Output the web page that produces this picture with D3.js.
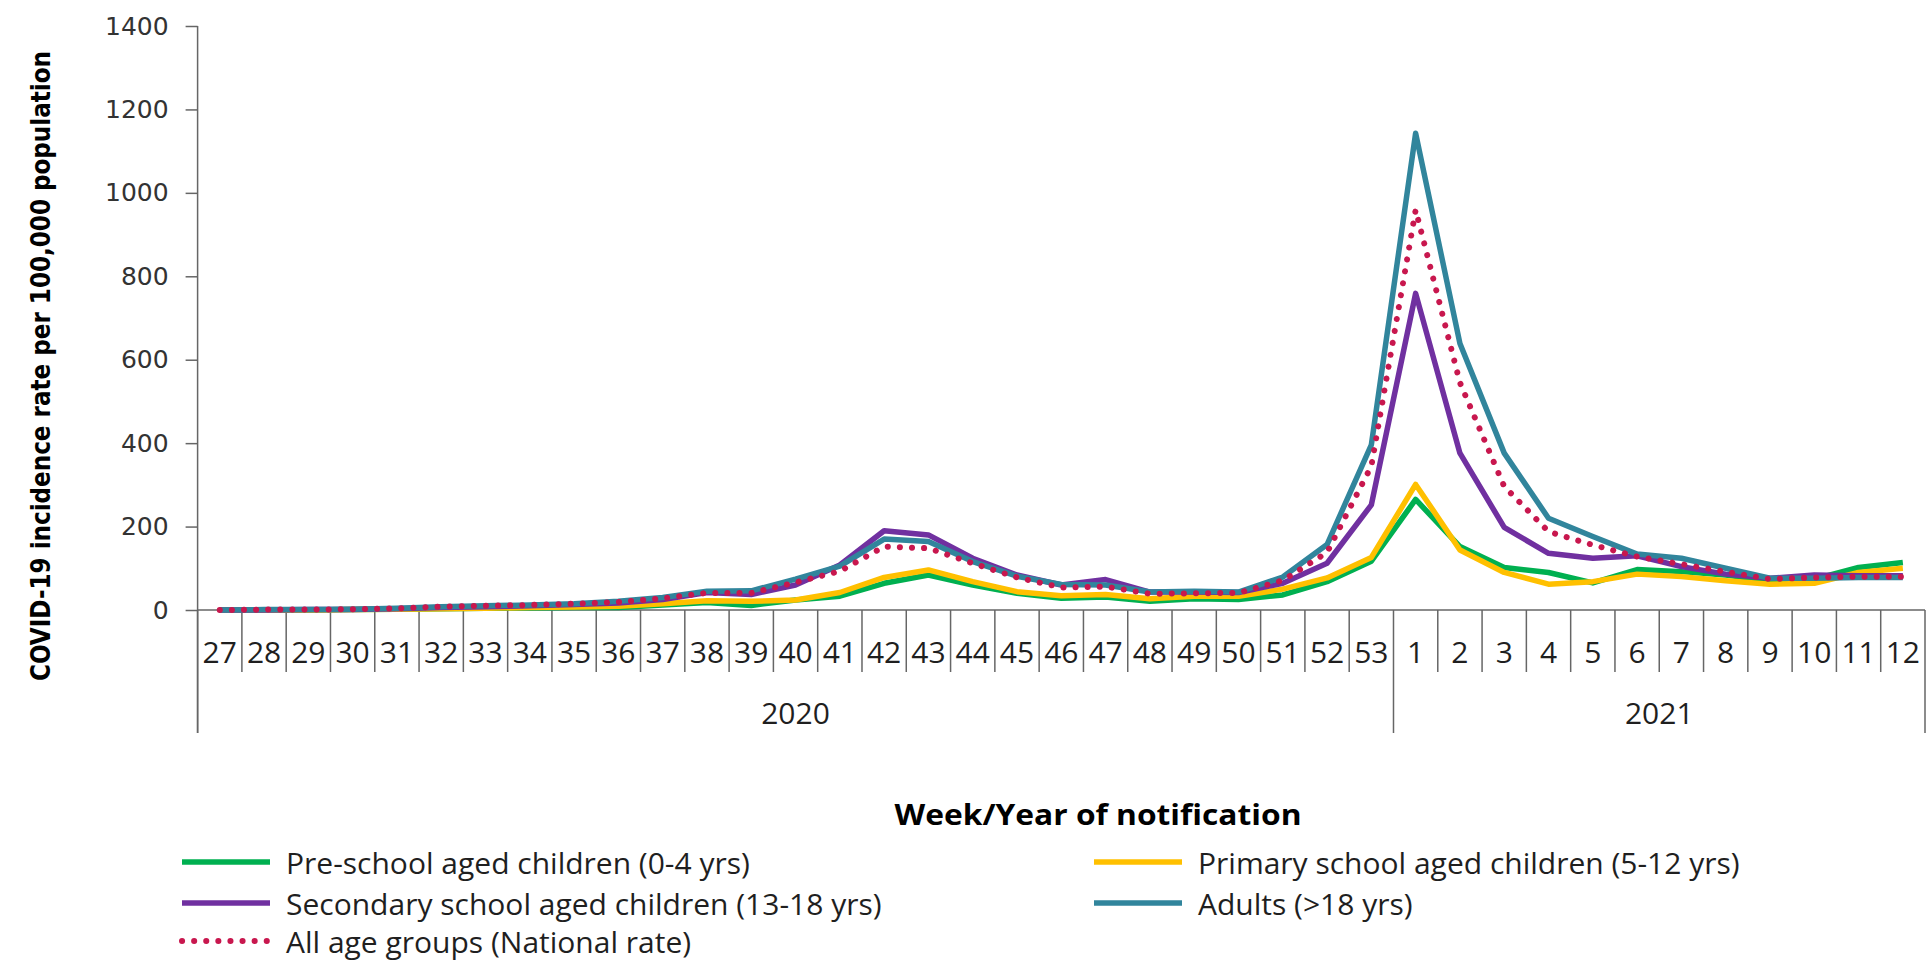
<!DOCTYPE html>
<html>
<head>
<meta charset="utf-8">
<script src="https://cdn.jsdelivr.net/npm/d3@7"></script>
<style>
  html, body { margin: 0; padding: 0; background: #ffffff; }
  svg { display: block; }
</style>
</head>
<body>
<svg id="chart" width="1931" height="960"></svg>
<script>
// ---------------- DATA ----------------
const weeks = ["27","28","29","30","31","32","33","34","35","36","37","38","39","40","41","42","43","44","45","46","47","48","49","50","51","52","53",
               "1","2","3","4","5","6","7","8","9","10","11","12"];
const yearLabels = ["2020", "2021"];
const yearWeekCounts = [27, 12];
const yTicks = [0, 200, 400, 600, 800, 1000, 1200, 1400];

const preSchool = [0,0,0,1,2,3,4,5,6,6,12,18,11,24,33,64,84,60,40,28,31,21,27,25,36,68,117,
                   265,152,102,90,65,97,92,84,70,74,102,114];
const primary   = [0,0,0,1,2,3,4,6,7,9,15,22,21,24,42,78,96,68,44,34,37,27,33,33,50,77,126,
                   301,144,90,62,68,86,80,70,62,64,90,100];
const secondary = [0,0,1,1,3,6,8,10,13,17,25,42,37,60,108,190,180,124,84,60,73,43,43,42,64,112,252,
                   759,376,198,136,124,130,104,86,76,84,82,82];
const adults    = [0,1,1,2,4,8,10,12,15,21,30,45,46,74,105,170,164,116,81,61,60,43,45,43,79,157,396,
                   1143,639,376,220,176,134,124,100,76,76,78,78];
const allAges   = [0,1,1,2,4,8,10,12,15,19,28,41,41,66,93,152,148,112,78,54,56,39,40,41,71,138,345,
                   959,545,296,188,156,128,110,92,74,78,80,80];

const seriesNames = [
  "Pre-school aged children (0-4 yrs)",
  "Primary school aged children (5-12 yrs)",
  "Secondary school aged children (13-18 yrs)",
  "Adults (>18 yrs)",
  "All age groups (National rate)"
];
const seriesValues = [preSchool, primary, secondary, adults, allAges];
const seriesColors = ["#00b050", "#ffc000", "#7030a0", "#31859c", "#c8174e"];
const seriesDotted = [false, false, false, false, true];

const yTitle = "COVID-19 incidence rate per 100,000 population";
const xTitle = "Week/Year of notification";

// ---------------- LAYOUT ----------------
const svg = d3.select("#chart");
const plotLeft = 197.6, plotRight = 1925, plotTop = 26, plotBottom = 610;
const weekTickLen = 62, yearTickBottom = 733;
const axisColor = "#666666";
const textColor = "#1f1f1f";

const x = d3.scaleBand().domain(weeks).range([plotLeft, plotRight]).paddingInner(0).paddingOuter(0);
const y = d3.scaleLinear().domain([0, 1400]).range([plotBottom, plotTop]);

// Y axis
const yAxis = d3.axisLeft(y).tickValues(yTicks).tickFormat(d3.format("d"))
  .tickSize(12).tickSizeOuter(0).tickPadding(17);
const gy = svg.append("g").attr("transform", `translate(${plotLeft},0)`).call(yAxis);
gy.select(".domain").remove();
gy.selectAll(".tick line").attr("stroke", axisColor).attr("stroke-width", 1.5);
gy.selectAll(".tick text")
  .attr("font-family", "DejaVu Sans")
  .attr("font-size", 25)
  .attr("fill", "#333333");

// y axis line extended down as the left border of the multi-level category axis
svg.append("line")
  .attr("x1", plotLeft).attr("x2", plotLeft)
  .attr("y1", y(1400)).attr("y2", yearTickBottom)
  .attr("stroke", axisColor).attr("stroke-width", 1.5);

// X axis baseline
svg.append("line")
  .attr("x1", plotLeft).attr("x2", plotRight)
  .attr("y1", y(0)).attr("y2", y(0))
  .attr("stroke", axisColor).attr("stroke-width", 1.5);

// Week separators (between categories)
const boundaries = weeks.map(w => x(w)).concat([x(weeks[weeks.length - 1]) + x.bandwidth()]);
const yearBoundaryIdx = [0];
yearWeekCounts.reduce((acc, c) => { yearBoundaryIdx.push(acc + c); return acc + c; }, 0);

svg.append("g").selectAll("line")
  .data(boundaries.map((b, i) => ({ b, i })))
  .join("line")
  .attr("x1", d => d.b).attr("x2", d => d.b)
  .attr("y1", y(0))
  .attr("y2", d => yearBoundaryIdx.includes(d.i) ? yearTickBottom : y(0) + weekTickLen)
  .attr("stroke", axisColor).attr("stroke-width", 1.5);

// Week labels
svg.append("g").selectAll("text")
  .data(weeks)
  .join("text")
  .attr("x", d => x(d) + x.bandwidth() / 2)
  .attr("y", y(0) + 41)
  .attr("text-anchor", "middle")
  .attr("dominant-baseline", "central")
  .attr("font-family", "Open Sans")
  .attr("font-size", 30)
  .attr("fill", textColor)
  .text(d => d);

// Year labels
svg.append("g").selectAll("text")
  .data(yearLabels.map((lab, i) => ({ lab, i })))
  .join("text")
  .attr("x", d => (boundaries[yearBoundaryIdx[d.i]] + boundaries[yearBoundaryIdx[d.i + 1]]) / 2)
  .attr("y", 712)
  .attr("text-anchor", "middle")
  .attr("dominant-baseline", "central")
  .attr("font-family", "Open Sans")
  .attr("font-size", 30)
  .attr("fill", textColor)
  .text(d => d.lab);

// X title
svg.append("text")
  .attr("x", 1098)
  .attr("y", 814)
  .attr("text-anchor", "middle")
  .attr("dominant-baseline", "central")
  .attr("font-family", "Open Sans")
  .attr("font-weight", "bold")
  .attr("font-size", 28)
  .attr("fill", "#000")
  .attr("textLength", 407)
  .attr("lengthAdjust", "spacingAndGlyphs")
  .text(xTitle);

// Y title
svg.append("text")
  .attr("transform", "translate(40,366) rotate(-90)")
  .attr("text-anchor", "middle")
  .attr("dominant-baseline", "central")
  .attr("font-family", "DejaVu Sans Condensed, Liberation Sans, sans-serif")
  .attr("font-weight", "bold")
  .attr("font-size", 27)
  .attr("fill", "#000")
  .attr("textLength", 630)
  .attr("lengthAdjust", "spacingAndGlyphs")
  .text(yTitle);

// Lines
const line = d3.line()
  .x((d, i) => x(weeks[i]) + x.bandwidth() / 2)
  .y(d => y(d));

seriesValues.forEach((vals, k) => {
  const p = svg.append("path")
    .datum(vals)
    .attr("fill", "none")
    .attr("stroke", seriesColors[k])
    .attr("stroke-linejoin", "round")
    .attr("d", line);
  if (seriesDotted[k]) {
    p.attr("stroke-width", 6).attr("stroke-linecap", "round").attr("stroke-dasharray", "0.1 12");
  } else {
    p.attr("stroke-width", 5.5).attr("stroke-linecap", "butt");
  }
});

// Legend
const legendCols = [182, 1094];
const legendRows = [862, 903, 941];
const legendItems = seriesNames.map((name, k) => ({
  name, k,
  col: k === 4 ? 0 : (k % 2),
  row: Math.floor(k / 2)
}));
const lg = svg.append("g").selectAll("g")
  .data(legendItems)
  .join("g")
  .attr("transform", d => `translate(${legendCols[d.col]},${legendRows[d.row]})`);
lg.append("line")
  .attr("x1", 0).attr("x2", 88)
  .attr("y1", 0).attr("y2", 0)
  .attr("stroke", d => seriesColors[d.k])
  .attr("stroke-width", d => seriesDotted[d.k] ? 6 : 5.5)
  .attr("stroke-linecap", d => seriesDotted[d.k] ? "round" : "butt")
  .attr("stroke-dasharray", d => seriesDotted[d.k] ? "0.1 12" : null);
lg.append("text")
  .attr("x", 104)
  .attr("y", 0)
  .attr("dominant-baseline", "central")
  .attr("font-family", "Open Sans")
  .attr("font-size", 30)
  .attr("fill", textColor)
  .text(d => d.name);
</script>
</body>
</html>
